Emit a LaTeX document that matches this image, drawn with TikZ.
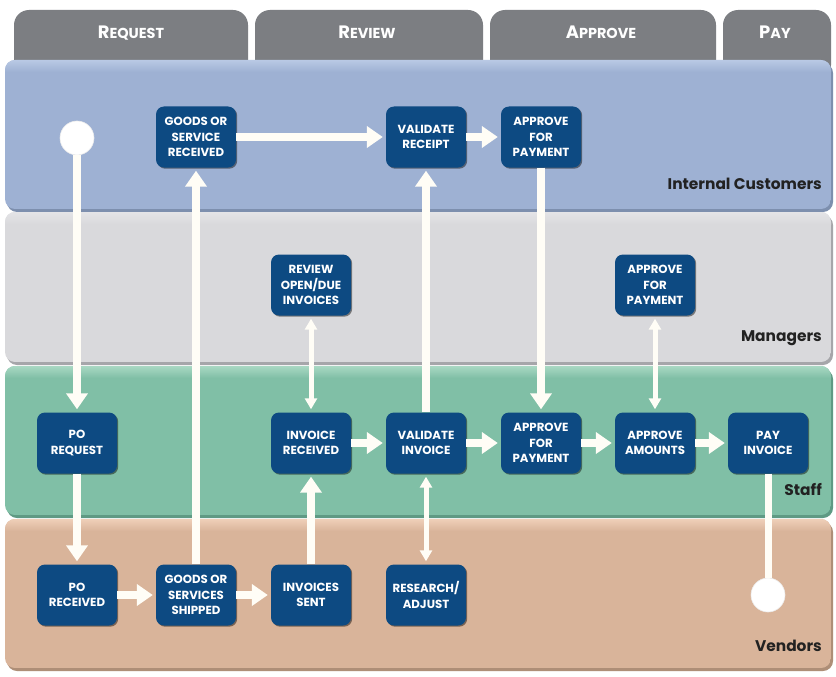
\documentclass[tikz,border=0pt]{standalone}
\usepackage{fontspec}
\setmainfont{Poppins}
\newfontfamily\pfont{Poppins}
\usetikzlibrary{arrows.meta,shadows}
\definecolor{tabgray}{HTML}{7C7E82}
\definecolor{laneblue}{HTML}{9EB1D3}
\definecolor{laneblueT}{HTML}{B9C9E4}
\definecolor{laneblueS}{HTML}{7D8FAE}
\definecolor{lanegray}{HTML}{D9D9DC}
\definecolor{lanegrayT}{HTML}{E4E4E7}
\definecolor{lanegrayS}{HTML}{A6A6AA}
\definecolor{lanegreen}{HTML}{80BFA6}
\definecolor{lanegreenT}{HTML}{A9D8C3}
\definecolor{lanegreenS}{HTML}{5F9A84}
\definecolor{lanetan}{HTML}{D9B49A}
\definecolor{lanetanT}{HTML}{EFCFB8}
\definecolor{lanetanS}{HTML}{AE8E77}
\definecolor{boxblue}{HTML}{0D4A82}
\definecolor{labeltext}{HTML}{222222}
\definecolor{arrowwhite}{HTML}{FFFDF6}
\tikzset{
  pbox/.style={rounded corners=8bp, fill=boxblue, minimum width=80bp, minimum height=61bp,
    text=white, align=center, inner sep=0pt,
    font=\pfont\bfseries\fontsize{11.8}{15.5}\selectfont,
    drop shadow={opacity=0.45, shadow xshift=1.2pt, shadow yshift=-1.2pt, fill=black}},
  endpt/.style={circle, fill=white, minimum size=34bp, inner sep=0pt, draw=white!85!gray, line width=0.6pt},
  lanelabel/.style={text=labeltext, font=\pfont\bfseries\fontsize{15.5}{17}\selectfont, inner sep=0pt},
  tablabel/.style={text=white, font=\pfont\bfseries, inner sep=0pt},
  arr/.style={draw=arrowwhite, line width=7.5bp, -{Triangle[width=21bp,length=16bp]}, shorten >=3bp},
  darr/.style={draw=arrowwhite, line width=5bp, {Triangle[width=12bp,length=11bp]}-{Triangle[width=12bp,length=11bp]}, shorten >=3bp, shorten <=3bp},
  plainline/.style={draw=arrowwhite, line width=7bp},
}
\newcommand{\tabtext}[2]{{\fontsize{18}{18}\selectfont #1}{\fontsize{14.5}{18}\selectfont #2}}
\newcommand{\lane}[5]{%
  \fill[#5, rounded corners=10bp] (7,#1+3) rectangle (833,#2+3);
  \begin{scope}
    \clip[rounded corners=10bp] (5,#1) rectangle (831,#2);
    \fill[#3] (5,#1) rectangle (831,#2);
    \shade[top color=#4, bottom color=#3] (5,#1) rectangle (831,#1+12);
  \end{scope}}
\begin{document}
\begin{tikzpicture}[x=1bp,y=-1bp]
\useasboundingbox[fill=white] (0,0) rectangle (836,677);
% tabs
\fill[tabgray, rounded corners=15bp] (14,10) rectangle (248,80);
\fill[tabgray, rounded corners=15bp] (255,10) rectangle (483,80);
\fill[tabgray, rounded corners=15bp] (490,10) rectangle (716,80);
\fill[tabgray, rounded corners=15bp] (723,10) rectangle (831,80);
\node[tablabel, anchor=base] (treq) at (131,39) {\tabtext{R}{EQUEST}};
\node[tablabel, anchor=base] (trev) at (367,39) {\tabtext{R}{EVIEW}};
\node[tablabel, anchor=base] (tapp) at (601,39) {\tabtext{A}{PPROVE}};
\node[tablabel, anchor=base] (tpay) at (775,39) {\tabtext{P}{AY}};
% lanes
\lane{60}{209}{laneblue}{laneblueT}{laneblueS}
\lane{212}{362}{lanegray}{lanegrayT}{lanegrayS}
\lane{366}{515}{lanegreen}{lanegreenT}{lanegreenS}
\lane{519}{668}{lanetan}{lanetanT}{lanetanS}
\node[lanelabel, anchor=base east] (lic) at (822,189) {Internal Customers};
\node[lanelabel, anchor=base east] (lmg) at (822,341) {Managers};
\node[lanelabel, anchor=base east] (lst) at (822,495) {Staff};
\node[lanelabel, anchor=base east] (lve) at (822,651) {Vendors};
% boxes
\node[pbox] (gsr) at (196,137) {GOODS OR\\SERVICE\\RECEIVED};
\node[pbox] (vr) at (426,137) {VALIDATE\\RECEIPT};
\node[pbox] (afp1) at (541,137) {APPROVE\\FOR\\PAYMENT};
\node[pbox] (rev) at (311,285) {REVIEW\\OPEN/DUE\\INVOICES};
\node[pbox] (afp2) at (655,285) {APPROVE\\FOR\\PAYMENT};
\node[pbox] (poreq) at (77,443) {PO\\REQUEST};
\node[pbox] (irec) at (311,443) {INVOICE\\RECEIVED};
\node[pbox] (vi) at (426,443) {VALIDATE\\INVOICE};
\node[pbox] (afp3) at (541,443) {APPROVE\\FOR\\PAYMENT};
\node[pbox] (aamt) at (655,443) {APPROVE\\AMOUNTS};
\node[pbox] (pay) at (768,443) {PAY\\INVOICE};
\node[pbox] (porec) at (77,595) {PO\\RECEIVED};
\node[pbox] (gss) at (196,595) {GOODS OR\\SERVICES\\SHIPPED};
\node[pbox] (isent) at (311,595) {INVOICES\\SENT};
\node[pbox] (radj) at (426,595) {RESEARCH/\\ADJUST};
\node[endpt] (start) at (77,138) {};
\node[endpt] (finish) at (768,595) {};
% connectors
\draw[arr] (start) -- (poreq);
\draw[arr] (poreq) -- (porec);
\draw[arr] (porec) -- (gss);
\draw[arr] (gss) -- (gsr);
\draw[arr] (gsr) -- (vr);
\draw[arr] (vr) -- (afp1);
\draw[arr] (afp1) -- (afp3);
\draw[arr] (gss) -- (isent);
\draw[arr] (isent) -- (irec);
\draw[darr] (irec) -- (rev);
\draw[arr] (irec) -- (vi);
\draw[arr] (vi) -- (vr);
\draw[darr] (vi) -- (radj);
\draw[arr] (vi) -- (afp3);
\draw[arr] (afp3) -- (aamt);
\draw[darr] (aamt) -- (afp2);
\draw[arr] (aamt) -- (pay);
\draw[plainline] (pay) -- (finish);
\end{tikzpicture}
\end{document}
